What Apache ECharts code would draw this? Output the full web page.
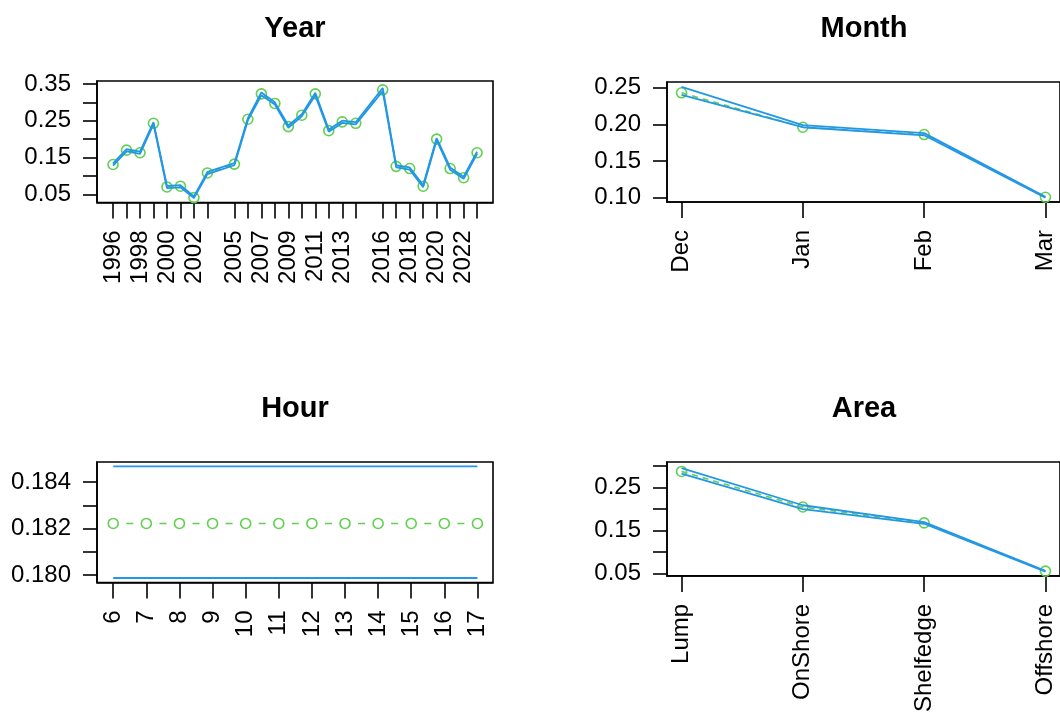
<!DOCTYPE html>
<html>
<head>
<meta charset="utf-8">
<title>Index effects</title>
<script src="https://cdn.jsdelivr.net/npm/echarts@6/dist/echarts.min.js"></script>
<style>
  html, body { margin: 0; padding: 0; background: #fff; }
  #chart { width: 1060px; height: 715px; }
</style>
</head>
<body>
<div id="chart"></div>
<script>
// ---- Year panel ----
const yearCats = [1996, 1997, 1998, 1999, 2000, 2001, 2002, 2003, 2005, 2006, 2007, 2008, 2009,
                  2010, 2011, 2012, 2013, 2014, 2016, 2017, 2018, 2019, 2020, 2021, 2022, 2023];
const yearFit   = [0.131, 0.170, 0.163, 0.243, 0.070, 0.072, 0.041, 0.108, 0.132, 0.254, 0.323, 0.297, 0.234,
                   0.265, 0.323, 0.223, 0.247, 0.243, 0.334, 0.126, 0.120, 0.072, 0.200, 0.120, 0.095, 0.163];
const yearUpper = [0.134, 0.173, 0.166, 0.246, 0.073, 0.075, 0.044, 0.111, 0.135, 0.257, 0.327, 0.300, 0.237,
                   0.268, 0.326, 0.226, 0.250, 0.246, 0.339, 0.129, 0.123, 0.075, 0.203, 0.123, 0.098, 0.166];
const yearLower = [0.128, 0.167, 0.160, 0.240, 0.067, 0.069, 0.040, 0.105, 0.129, 0.251, 0.319, 0.294, 0.231,
                   0.262, 0.319, 0.220, 0.244, 0.240, 0.330, 0.123, 0.117, 0.069, 0.197, 0.117, 0.092, 0.160];
const yearLabels = [1996, 1998, 2000, 2002, 2005, 2007, 2009, 2011, 2013, 2016, 2018, 2020, 2022];
const yearYTicks = [0.05, 0.10, 0.15, 0.20, 0.25, 0.30, 0.35];
const yearYLabels = [0.05, 0.15, 0.25, 0.35];

// ---- Month panel ----
const monthCats  = ['Dec', 'Jan', 'Feb', 'Mar'];
const monthFit   = [0.243, 0.196, 0.186, 0.1005];
const monthUpper = [0.251, 0.199, 0.188, 0.101];
const monthLower = [0.240, 0.196, 0.185, 0.100];
const monthYTicks = [0.10, 0.15, 0.20, 0.25];

// ---- Hour panel ----
const hourCats  = [6, 7, 8, 9, 10, 11, 12, 13, 14, 15, 16, 17];
const hourFit   = [0.18222, 0.18222, 0.18222, 0.18222, 0.18222, 0.18222, 0.18222, 0.18222, 0.18222, 0.18222, 0.18222, 0.18222];
const hourUpper = [0.18467, 0.18467, 0.18467, 0.18467, 0.18467, 0.18467, 0.18467, 0.18467, 0.18467, 0.18467, 0.18467, 0.18467];
const hourLower = [0.17988, 0.17988, 0.17988, 0.17988, 0.17988, 0.17988, 0.17988, 0.17988, 0.17988, 0.17988, 0.17988, 0.17988];
const hourYTicks = [0.180, 0.181, 0.182, 0.183, 0.184];
const hourYLabels = [0.180, 0.182, 0.184];

// ---- Area panel ----
const areaCats  = ['Lump', 'OnShore', 'Shelfedge', 'Offshore'];
const areaFit   = [0.2875, 0.205, 0.168, 0.056];
const areaUpper = [0.295, 0.209, 0.170, 0.057];
const areaLower = [0.2825, 0.200, 0.166, 0.055];
const areaYTicks = [0.05, 0.10, 0.15, 0.20, 0.25, 0.30];
const areaYLabels = [0.05, 0.15, 0.25];

// ---- styling ----
const FONT = "'Liberation Sans', Arial, sans-serif";
const GREEN = '#61D04F';
const BLUE = '#2297E6';
const INK = '#000';

const grids = [
  { left: 97,  top: 81,  width: 396, height: 121.5 },
  { left: 667, top: 82,  width: 394, height: 120 },
  { left: 97,  top: 462, width: 396, height: 120.5 },
  { left: 667, top: 462, width: 394, height: 120.5 }
];
const xRanges = [[1994.81, 2024.18], [0.88, 4.12], [5.51, 17.47], [0.88, 4.12]];
const yRanges = [[0.0277, 0.358], [0.094, 0.2577], [0.179686, 0.184857], [0.045, 0.3094]];

function xAxis(i, ticks, labels, fmt) {
  return {
    type: 'value', gridIndex: i, min: xRanges[i][0], max: xRanges[i][1],
    splitLine: { show: false },
    axisLine: { show: true, lineStyle: { color: INK, width: 1.6 } },
    axisTick: { show: true, length: 16, customValues: ticks, lineStyle: { color: INK, width: 1.6 } },
    axisLabel: { customValues: labels, rotate: 90, margin: 28, fontSize: 24, fontFamily: FONT, color: INK,
                 formatter: fmt }
  };
}
function yAxis(i, ticks, labels, digits) {
  return {
    type: 'value', gridIndex: i, min: yRanges[i][0], max: yRanges[i][1],
    splitLine: { show: false },
    axisLine: { show: true, lineStyle: { color: INK, width: 1.6 } },
    axisTick: { show: true, length: 14, customValues: ticks, lineStyle: { color: INK, width: 1.6 } },
    axisLabel: { customValues: labels, margin: 26, fontSize: 24, fontFamily: FONT, color: INK,
                 padding: [4, 0, 0, 0],
                 formatter: v => Number(v).toFixed(digits) }
  };
}

function pairs(xs, ys) { return xs.map((x, k) => [x, ys[k]]); }

function panelSeries(i, xs, fit, upper, lower, fitDash) {
  return [
    {
      type: 'line', xAxisIndex: i, yAxisIndex: i, data: pairs(xs, fit), z: 2,
      symbol: 'circle', symbolSize: 10, silent: true, animation: false,
      itemStyle: { color: 'rgba(0,0,0,0)', borderColor: GREEN, borderWidth: 1.6 },
      lineStyle: Object.assign({ color: GREEN, width: 1.6 }, fitDash)
    },
    {
      type: 'line', xAxisIndex: i, yAxisIndex: i, data: pairs(xs, upper), z: 3,
      symbol: 'none', silent: true, animation: false,
      lineStyle: { color: BLUE, width: 1.8 }
    },
    {
      type: 'line', xAxisIndex: i, yAxisIndex: i, data: pairs(xs, lower), z: 3,
      symbol: 'none', silent: true, animation: false,
      lineStyle: { color: BLUE, width: 1.8 }
    }
  ];
}

const monthIdx = monthCats.map((_, k) => k + 1);
const areaIdx = areaCats.map((_, k) => k + 1);

// Hour fit: one short dash centred between neighbouring points
const hourStep = grids[2].width / (xRanges[2][1] - xRanges[2][0]);
const hourDash = { type: [7, hourStep - 7], dashOffset: hourStep - (hourStep / 2 - 3.5) };
const plainDash = { type: [6, 5] };

function title(text, x, y) {
  return { text, left: x, top: y, textAlign: 'center', padding: 0,
           textStyle: { fontSize: 29, fontWeight: 'bold', fontFamily: FONT, color: INK } };
}

const option = {
  backgroundColor: '#fff',
  animation: false,
  title: [
    title('Year', 295, 14),
    title('Month', 864, 14),
    title('Hour', 295, 394),
    title('Area', 864, 394)
  ],
  grid: grids.map(g => Object.assign({ show: true, borderColor: INK, borderWidth: 1.6, containLabel: false }, g)),
  xAxis: [
    xAxis(0, yearCats, yearLabels, v => String(Math.round(v))),
    xAxis(1, monthIdx, monthIdx, v => monthCats[Math.round(v) - 1]),
    xAxis(2, hourCats, hourCats, v => String(Math.round(v))),
    xAxis(3, areaIdx, areaIdx, v => areaCats[Math.round(v) - 1])
  ],
  yAxis: [
    yAxis(0, yearYTicks, yearYLabels, 2),
    yAxis(1, monthYTicks, monthYTicks, 2),
    yAxis(2, hourYTicks, hourYLabels, 3),
    yAxis(3, areaYTicks, areaYLabels, 2)
  ],
  series: [].concat(
    panelSeries(0, yearCats, yearFit, yearUpper, yearLower, plainDash),
    panelSeries(1, monthIdx, monthFit, monthUpper, monthLower, plainDash),
    panelSeries(2, hourCats, hourFit, hourUpper, hourLower, hourDash),
    panelSeries(3, areaIdx, areaFit, areaUpper, areaLower, plainDash)
  )
};

const chart = echarts.init(document.getElementById('chart'), null, { renderer: 'canvas' });
chart.setOption(option);
</script>
</body>
</html>
